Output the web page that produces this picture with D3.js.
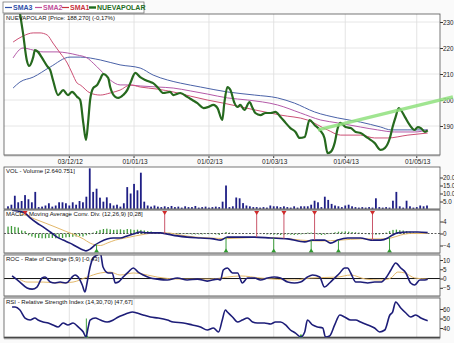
<!DOCTYPE html>
<html>
<head>
<meta charset="utf-8">
<script src="https://cdn.jsdelivr.net/npm/d3@7"></script>
<style>
  html, body { margin: 0; padding: 0; background: #fafafa; }
  svg { display: block; font-family: "Liberation Sans", Arial, sans-serif; }
</style>
</head>
<body>
<svg id="chart" width="454" height="343"></svg>
<script>
// x positions are trading sessions (0 = first session shown)
const tickSessions = [18, 37, 59, 78, 99, 120];
const tickLabels = ['03/12/12', '01/01/13', '01/02/13', '01/03/13', '01/04/13', '01/05/13'];

// price [session, value]
const price = [[3.5,233.5],[4.4,225.8],[5.5,215.4],[6.2,213.1],[7.4,216.5],[7.9,219.2],[8.8,218.5],[10,216.2],[11.5,213],[12.4,211.5],[13.2,207.7],[14.7,201.9],[16.2,203.8],[17.6,201.9],[18.8,203.1],[20.3,201.2],[21.2,200],[22.1,191.2],[22.9,184.6],[23.5,191.2],[24.1,200],[25,204.6],[26.2,205.8],[27.1,208.1],[27.9,210],[29.4,208.5],[30,205],[31.5,201.2],[32.4,200.8],[33.8,201.9],[35,203.8],[35.9,206.5],[37.4,210.4],[38.8,208.8],[40.3,207.7],[41.8,206.9],[42.6,206.5],[44.1,204.6],[45.6,202.7],[47.6,203.1],[48.5,201.9],[50.6,202.7],[52.6,201.2],[54.1,200],[55.6,198.8],[57.4,196.9],[58.8,197.3],[60.3,198.1],[61.5,196.9],[62.9,192.3],[63.5,198.8],[64.4,205],[65.3,203.8],[66.5,198.8],[67.4,197.3],[68.2,198.1],[69.4,196.2],[70.9,199.2],[71.8,196.9],[72.6,195],[74.1,194.2],[75.6,195],[77.1,195],[78.5,195.4],[80,193.5],[81.5,191.2],[82.9,189.2],[84.4,187.7],[85.6,185.4],[87.1,185.8],[88.5,192.3],[90,190.4],[91.5,188.5],[92.9,185.4],[93.8,179.6],[94.7,180],[95.9,183.5],[96.8,189.2],[97.6,191.2],[99.1,189.6],[100.6,189.2],[102.1,187.7],[103.5,187.3],[105.6,185.4],[107.6,183.5],[109.4,180.8],[110.6,181.5],[112.1,185.4],[112.9,189.6],[113.8,193.5],[114.7,196.9],[115.3,196.2],[116.5,193.5],[117.9,190.4],[119.4,188.5],[120.3,189.6],[121.2,189.2],[122.4,187.7],[123.2,188.3]];

const sma1 = [[1.5,222.3],[4.4,224.6],[7.4,225.8],[9.4,225.8],[11.5,225],[13.2,221.9],[15.3,218.1],[17.4,214.2],[18.8,210.4],[20.3,206.5],[21.2,205.8],[24.1,202.7],[27.1,201.9],[30,202.7],[32.9,203.8],[35.9,205.8],[38.8,205],[43.8,204.2],[48.5,203.1],[53.5,201.5],[58.5,200],[63.2,198.8],[72.4,196.2],[80,194.2],[87.9,192.3],[93.8,188.5],[97.6,186.5],[103.5,186.5],[107.6,185.4],[111.5,185.4],[117.4,186.5],[123.2,187.3]];
const sma2 = [[1.5,216.2],[4.4,220],[7.4,219.2],[10.3,218.5],[14.4,218.5],[17.4,218.1],[20.3,217.3],[23.2,216.2],[25,214.2],[27.1,211.5],[30,207.7],[32.9,205.8],[35,205.8],[38.8,205.4],[43.8,205],[48.5,204.6],[53.5,203.5],[58.5,202.3],[64.4,200.8],[70.3,200],[79.1,198.1],[85.9,195],[91.8,192.3],[96.8,191.2],[103.5,189.6],[108.5,188.5],[113.5,187.7],[119.4,187.7],[123.2,188.5]];
const sma3 = [[1.5,204.6],[3.5,206.9],[7.4,208.8],[12.4,212.7],[18.2,216.5],[21.2,216.5],[27.1,215.4],[32.9,213.5],[38.8,212.3],[42.6,209.6],[46.8,207.7],[50.6,206.5],[56.5,205],[64.4,203.1],[72.4,201.9],[79.1,200.8],[84.1,198.8],[90,195.4],[96.8,193.1],[103.5,191.5],[109.4,189.6],[112.4,188.5],[117.4,188.5],[123.2,188.5]];
const trendLine = [[91, 188.5], [130.6, 201.2]];

// volume per session (x 100.000)
const volume = [2,3,8.6,4.5,5.3,9,6.4,4.5,11,1.5,1.8,2.5,3.9,1.8,2.5,4.5,4.5,3.9,2.5,4.5,3,5.3,4.5,8,25.7,11,13,7.4,4.9,7.6,3.9,2.5,3,1.8,3.9,14,10,16,12,23,4.9,2.5,1.8,2.5,1.8,1.5,2,1.5,2.2,1.5,1.8,1.2,2,1.5,1.5,2.2,1.2,1.5,1.8,1.2,1.5,1.8,1.5,4.9,15,1.5,2,7.5,7,4,2.5,2,1.5,1.5,1.2,1.5,1.2,2.5,2,2,1.5,2,1.5,1.2,2,1.2,2,2,2,3,5.5,4.5,1.5,8,6,3.5,2.5,2,1.5,2.5,3,2,1.5,1.2,1.5,1.2,1.5,1.2,7,1.5,1.2,1.5,1.2,5.5,11,2,1.2,5.5,2,1.2,1.5,2.5,2,2.5];

// MACD
const macdHist = [2.3,2.5,2.2,2,1,0.8,-0.6,-1,-1.4,-1.5,-1.6,-1.6,-1.5,-1.5,-1.6,-1.4,-1.5,-1.3,-1.2,-1.1,-1,-0.9,-1,-0.6,-0.3,0.3,0.8,1.2,1.5,1.6,1.4,1.2,1.3,1.4,1.2,1.5,1.4,1.2,1.3,1.2,1,0.8,0.7,0.5,0.3,0.2,0.2,0.1,-0.1,-0.1,0.2,0.1,-0.2,-0.2,-0.3,-0.3,-0.3,-0.3,-0.2,-0.2,-0.2,-0.3,-0.5,0.2,0.5,0.3,0.2,0.1,0.1,0,-0.1,-0.1,0.1,0.1,0,-0.2,-0.3,-0.3,-0.4,-0.4,-0.5,-0.4,-0.3,-0.4,-0.5,-0.4,-0.3,-0.2,0.3,0.3,0.2,-0.3,-0.5,-0.4,-0.2,0.2,0.4,0.6,0.6,0.7,0.6,0.5,0.4,0.3,0.2,-0.2,-0.3,-0.4,-0.4,-0.3,-0.2,0.3,0.8,1.2,1.3,1.1,1,0.8,0.6,0.4,0.3,0.2,0.2,0.1];
const macdLine = [[1.2,7.8],[2.9,7.5],[5,6.8],[6.5,5.2],[8.5,3.5],[10.3,2.2],[12.4,0.5],[14.4,-1.2],[16.2,-2.2],[18.2,-3.2],[20.3,-4.5],[22.1,-5.5],[22.9,-5.8],[24.1,-5.2],[25.6,-3.8],[27.1,-2.8],[29.1,-1.8],[30.9,-1.5],[32.9,-1.5],[35,-0.8],[36.8,-0.2],[38.8,0.5],[40.9,0.2],[42.6,0.2],[44.7,0.2],[46.8,-0.2],[49.7,-0.8],[52.6,-1.2],[56.5,-1.5],[60.3,-1.8],[62.4,-2.2],[64.4,-1.2],[67.4,-1.2],[72.4,-1.2],[77.1,-1.5],[82.1,-1.8],[87.1,-2.8],[89.4,-2.2],[92.9,-2.2],[94.7,-3.2],[96.8,-2.2],[99.7,-1.5],[103.5,-1.5],[106.5,-2.2],[109.4,-2.2],[111.5,-1.5],[112.9,-0.5],[114.4,0.2],[117.4,0.5],[120.3,0.5],[123.2,0.3]];
const macdSignal = [[3.5,6.5],[5.9,5.8],[7.9,4.8],[10.9,3.5],[13.8,2.2],[16.8,0.8],[19.7,-0.5],[22.1,-1.8],[24.1,-3.2],[25.6,-3.8],[27.1,-4],[29.1,-3.2],[31.5,-2.2],[34.4,-1.5],[37.4,-0.8],[40.3,-0.2],[43.2,0.2],[46.8,0.2],[50.6,-0.5],[55,-1.2],[59.4,-1.5],[64.4,-1.7],[72.4,-1.3],[80,-1.5],[85.9,-2.2],[91.8,-2.5],[97.6,-2.2],[103.5,-1.8],[109.4,-1.8],[112.4,-1.5],[115.3,-0.5],[118.2,0],[123.2,0]];
const macdSells = [[5,6.8],[46,0],[73,-1.2],[81,-1.7],[90,-2.2],[107,-2.2]];
const macdBuys = [[26,-3.5],[64,-1.3],[78,-1.5],[89,-2.3],[97,-2.2],[112,-1.2]];

// ROC
const rocLine = [[1.2,1.4],[3.5,-1.9],[5.6,-5.1],[7.1,-5.7],[8.5,-4.6],[10,0.3],[10.9,0.8],[12.4,-1.9],[13.8,-2.4],[15.3,-1.9],[16.8,-2.4],[17.6,-1.9],[18.8,0.8],[19.7,1.9],[20.6,0.8],[21.8,-3.5],[22.6,-7.3],[23.2,-2.4],[24.1,6.2],[25,11.1],[26.2,12.7],[27.1,13.8],[27.9,6.2],[29.4,3],[30.6,3],[31.5,-2.4],[32.4,-1.9],[33.8,0.8],[35.3,3.5],[36.8,5.7],[38.2,3.5],[39.7,1.9],[41.8,0.3],[43.8,-0.3],[46.8,-0.8],[49.7,0.3],[52.6,-0.8],[55.6,-0.3],[58.5,-1.4],[61.5,-0.3],[62.4,-0.8],[63.2,4.6],[64.4,5.7],[65.9,3],[67.4,3],[68.8,-2.4],[70.3,0.3],[72.4,0.3],[74.1,-0.8],[76.2,0.3],[78.2,0.8],[80,0.3],[82.1,-1.9],[84.1,-2.4],[85.9,-1.9],[87.9,0.8],[89.4,1.9],[91.5,0.8],[92.9,-4.6],[94.4,-2.4],[95.9,0.3],[97.4,3],[98.8,5.7],[99.7,5.7],[100.6,3],[102.1,-1.9],[103.5,-1.9],[105.6,-2.4],[107.6,-1.9],[109.4,-1.9],[110.9,0.3],[112.4,4.6],[113.8,8.4],[115.3,5.7],[116.8,3],[118.2,-2.4],[119.4,-3.5],[120.9,-0.8],[122.4,-0.8],[123.2,-0.4]];
const rocSignal = [[3.5,-0.5],[5.6,-1.9],[10.3,-1.9],[15.3,-2.4],[19.1,-1.9],[23.2,0.8],[27.1,3],[30,3.5],[32.9,1.9],[36.8,3],[40.9,1.9],[43.8,0.8],[50.6,-0.3],[59.4,-0.3],[64.4,0.8],[68.2,1.4],[74.1,0.3],[84.1,-0.8],[88.8,0.3],[96.8,0.8],[100.6,1.9],[105,-0.3],[109.4,-0.8],[112.4,0.3],[114.4,3.5],[116.5,3],[119.4,0.3],[123.2,-0.3]];

// RSI
const rsiLine = [[1.2,62.1],[2.1,62.1],[3.5,58.9],[5,50.5],[6.5,48.4],[7.9,50.5],[8.8,48.4],[10.3,46.3],[11.8,45.3],[13.2,43.2],[14.7,41.1],[16.2,45.3],[17.6,43.2],[19.1,45.3],[20.6,41.1],[22.1,35.8],[22.9,30.5],[23.5,40],[24.1,48.4],[25.6,50.5],[27.1,48.4],[29.1,46.3],[30.9,48.4],[32.4,51.6],[33.8,53.7],[35.3,55.8],[36.5,56.8],[37.9,55.8],[39.7,53.7],[41.8,51.6],[44.1,50.5],[46.8,48.4],[48.5,46.3],[51.5,45.3],[54.1,43.2],[56.5,41.1],[58.5,37.9],[60.3,40],[61.8,35.8],[62.9,48.4],[63.8,58.9],[64.4,56.8],[65.9,51.6],[67.4,46.3],[68.8,48.4],[70.3,50.5],[71.8,46.3],[73.2,45.3],[75.3,45.3],[77.1,44.2],[78.5,46.3],[80,46.3],[81.5,43.2],[82.9,37.9],[84.4,34.7],[85.9,30.5],[87.1,35.8],[87.9,48.4],[89.4,43.2],[90.9,41.1],[92.4,40],[93.2,30.5],[94.4,31.6],[95.9,43.2],[97.4,53.7],[98.8,51.6],[100.6,48.4],[102.1,48.4],[103.5,46.3],[105.6,43.2],[107.6,40],[109.1,35.8],[110.6,37.9],[112.1,53.7],[112.9,56.8],[113.8,67.4],[115.3,61.1],[116.8,55.8],[118.2,51.6],[119.7,53.7],[121.2,50.5],[122.6,48.4],[123.2,47.7]];
// RSI buy marks [session, level reached by the marker line]
const rsiBuys = [[23, 50], [86, 33]];

// ---------------------------------------------------------------
const svg = d3.select('#chart');
const left = 4, right = 440;
const x = d3.scaleLinear().domain([0, 123]).range([8, 427]);

const navy = '#1d1d78';
const orange = '#e3b86a';

// panel boxes
const panels = {
    main: { top: 14, bottom: 155 },
    vol: { top: 167, bottom: 209 },
    macd: { top: 210, bottom: 253 },
    roc: { top: 255, bottom: 296 },
    rsi: { top: 298, bottom: 338 }
};

const yMain = d3.scaleLinear().domain([190, 230]).range([126, 22]);
const yVol = d3.scaleLinear().domain([0, 20]).range([209.5, 177.5]);
const yMacd = d3.scaleLinear().domain([-4, 4]).range([245.5, 221.5]);
const yRoc = d3.scaleLinear().domain([-5, 10]).range([287.8, 260]);
const yRsi = d3.scaleLinear().domain([40, 60]).range([328, 309]);

function setupPanel(name, y, ticks, fmt, title) {
    const p = panels[name];
    svg.append('rect')
        .attr('x', left).attr('y', p.top)
        .attr('width', right - left).attr('height', p.bottom - p.top)
        .attr('fill', '#fff');

    svg.append('clipPath').attr('id', 'clip-' + name)
        .append('rect')
        .attr('x', left).attr('y', p.top)
        .attr('width', right - left).attr('height', p.bottom - p.top);

    // vertical date grid
    svg.append('g').selectAll('line')
        .data(tickSessions).enter().append('line')
        .attr('x1', d => x(d)).attr('x2', d => x(d))
        .attr('y1', p.top).attr('y2', p.bottom)
        .attr('stroke', '#dcdcdc').attr('stroke-width', 0.8);

    // right axis
    const axis = d3.axisRight(y).tickValues(ticks).tickSize(3).tickFormat(fmt);
    const g = svg.append('g')
        .attr('transform', `translate(${right}, 0)`)
        .call(axis);
    g.select('.domain').remove();
    g.selectAll('line').attr('stroke', '#333');
    g.selectAll('text')
        .attr('x', 3)
        .style('font-size', '6.3px')
        .attr('fill', '#222');

    const layer = svg.append('g').attr('clip-path', `url(#clip-${name})`);

    // border and title drawn at the end
    p.finish = () => {
        svg.append('rect')
            .attr('x', left).attr('y', p.top)
            .attr('width', right - left).attr('height', p.bottom - p.top)
            .attr('fill', 'none').attr('stroke', '#555').attr('stroke-width', 0.8);
        svg.append('line')
            .attr('x1', left).attr('x2', right)
            .attr('y1', p.bottom + 0.5).attr('y2', p.bottom + 0.5)
            .attr('stroke', '#999').attr('stroke-width', 1.6);
        svg.append('text')
            .attr('x', left + 2).attr('y', p.top + 6.3)
            .style('font-size', '6px')
            .attr('fill', '#111')
            .text(title);
    };
    return layer;
}

const lineOf = y => d3.line()
    .x(d => x(d[0]))
    .y(d => y(d[1]))
    .curve(d3.curveMonotoneX);

// ---------------- main price panel
const main = setupPanel('main', yMain, [190, 200, 210, 220, 230], d3.format('d'),
    'NUEVAPOLAR [Price: 188,270] (-0,17%)');

main.append('g').selectAll('line')
    .data([190, 200, 210, 220, 230]).enter().append('line')
    .attr('x1', left).attr('x2', right)
    .attr('y1', d => yMain(d)).attr('y2', d => yMain(d))
    .attr('stroke', '#e0e0e0').attr('stroke-width', 0.8);

main.append('path').datum(sma3)
    .attr('d', lineOf(yMain)).attr('fill', 'none')
    .attr('stroke', '#4a62a8').attr('stroke-width', 1);
main.append('path').datum(sma2)
    .attr('d', lineOf(yMain)).attr('fill', 'none')
    .attr('stroke', '#b45aa8').attr('stroke-width', 1);
main.append('path').datum(sma1)
    .attr('d', lineOf(yMain)).attr('fill', 'none')
    .attr('stroke', '#cc4f74').attr('stroke-width', 1);
main.append('path').datum(price)
    .attr('d', lineOf(yMain)).attr('fill', 'none')
    .attr('stroke', '#26691e').attr('stroke-width', 2.2)
    .attr('stroke-linejoin', 'round');

// date labels under the price panel
svg.append('g').selectAll('text')
    .data(tickSessions).enter().append('text')
    .attr('x', d => x(d) + 1)
    .attr('y', 164)
    .attr('text-anchor', 'middle')
    .style('font-size', '6.5px')
    .attr('fill', '#222')
    .text((d, i) => tickLabels[i]);
svg.append('g').selectAll('line')
    .data(tickSessions).enter().append('line')
    .attr('x1', d => x(d)).attr('x2', d => x(d))
    .attr('y1', 155).attr('y2', 158)
    .attr('stroke', '#333');

// ---------------- volume
const vol = setupPanel('vol', yVol, [5, 10, 15, 20], d3.format('.1f'), 'VOL - Volume [2.640.751]');
vol.selectAll('rect.bar')
    .data(volume).enter().append('rect')
    .attr('class', 'bar')
    .attr('x', (d, i) => x(i) - 0.9)
    .attr('width', 1.8)
    .attr('y', d => yVol(d))
    .attr('height', d => yVol(0) - yVol(d))
    .attr('fill', '#1f1f86');

// ---------------- MACD
const macd = setupPanel('macd', yMacd, [-4, 0, 4], d3.format('d'),
    'MACD - Moving Average Conv. Div. (12,26,9) [0,28]');
macd.selectAll('rect.hist')
    .data(macdHist).enter().append('rect')
    .attr('class', 'hist')
    .attr('x', (d, i) => x(i) - 0.6)
    .attr('width', 1.3)
    .attr('y', d => Math.min(yMacd(0), yMacd(d)))
    .attr('height', d => Math.abs(yMacd(d) - yMacd(0)))
    .attr('fill', '#3f9b3a');
macd.append('line')
    .attr('x1', left).attr('x2', right)
    .attr('y1', yMacd(0)).attr('y2', yMacd(0))
    .attr('stroke', '#333').attr('stroke-width', 0.8)
    .attr('stroke-dasharray', '2,1.5');
macd.append('path').datum(macdSignal)
    .attr('d', lineOf(yMacd)).attr('fill', 'none')
    .attr('stroke', orange).attr('stroke-width', 1);
macd.append('path').datum(macdLine)
    .attr('d', lineOf(yMacd)).attr('fill', 'none')
    .attr('stroke', navy).attr('stroke-width', 1.6);

// sell / buy signals
const mTop = panels.macd.top, mBot = panels.macd.bottom;
macd.selectAll('line.sell')
    .data(macdSells).enter().append('line')
    .attr('x1', d => x(d[0])).attr('x2', d => x(d[0]))
    .attr('y1', mTop + 2).attr('y2', d => yMacd(d[1]))
    .attr('stroke', '#c9566a').attr('stroke-width', 1);
macd.selectAll('path.sellMark')
    .data(macdSells).enter().append('path')
    .attr('d', d => `M${x(d[0]) - 2.5},${mTop + 1}h5l-2.5,4z`)
    .attr('fill', '#d02a2a');
macd.selectAll('line.buy')
    .data(macdBuys).enter().append('line')
    .attr('x1', d => x(d[0])).attr('x2', d => x(d[0]))
    .attr('y1', mBot - 2).attr('y2', d => yMacd(d[1]))
    .attr('stroke', '#3c9c3c').attr('stroke-width', 1);
macd.selectAll('path.buyMark')
    .data(macdBuys).enter().append('path')
    .attr('d', d => `M${x(d[0]) - 2.5},${mBot - 0.5}h5l-2.5,-4z`)
    .attr('fill', '#2e9a2e');

// ---------------- ROC
const roc = setupPanel('roc', yRoc, [-5, 0, 5, 10], d3.format('d'), 'ROC - Rate of Change (5,9) [-0,43]');
roc.append('line')
    .attr('x1', left).attr('x2', right)
    .attr('y1', yRoc(0)).attr('y2', yRoc(0))
    .attr('stroke', '#111').attr('stroke-width', 1);
roc.append('path').datum(rocSignal)
    .attr('d', lineOf(yRoc)).attr('fill', 'none')
    .attr('stroke', orange).attr('stroke-width', 1);
roc.append('path').datum(rocLine)
    .attr('d', lineOf(yRoc)).attr('fill', 'none')
    .attr('stroke', navy).attr('stroke-width', 1.6);

// ---------------- RSI
const rsi = setupPanel('rsi', yRsi, [40, 50, 60], d3.format('d'),
    'RSI - Relative Strength Index (14,30,70) [47,67]');
rsi.append('line')
    .attr('x1', left).attr('x2', right)
    .attr('y1', yRsi(30)).attr('y2', yRsi(30))
    .attr('stroke', '#111').attr('stroke-width', 1.4);
rsi.selectAll('line.buy')
    .data(rsiBuys).enter().append('line')
    .attr('x1', d => x(d[0])).attr('x2', d => x(d[0]))
    .attr('y1', panels.rsi.bottom - 2).attr('y2', d => yRsi(d[1]))
    .attr('stroke', '#3c9c3c').attr('stroke-width', 1);
rsi.selectAll('path.buyMark')
    .data(rsiBuys).enter().append('path')
    .attr('d', d => `M${x(d[0]) - 2.5},${panels.rsi.bottom}h5l-2.5,-4z`)
    .attr('fill', '#2e9a2e');
rsi.append('path').datum(rsiLine)
    .attr('d', lineOf(yRsi)).attr('fill', 'none')
    .attr('stroke', navy).attr('stroke-width', 1.6);

Object.values(panels).forEach(p => p.finish());

// trend line drawn over the price panel and axis
svg.append('path').datum(trendLine)
    .attr('d', d3.line().x(d => x(d[0])).y(d => yMain(d[1])))
    .attr('stroke', '#8fe07e').attr('stroke-width', 3.5)
    .attr('stroke-opacity', 0.85).attr('fill', 'none');

// ---------------- legend
const legendItems = [
    { label: 'SMA3', color: '#2d4fa8', x: 5 },
    { label: 'SMA2', color: '#c0509a', x: 35 },
    { label: 'SMA1', color: '#c8323c', x: 62 },
    { label: 'NUEVAPOLAR', color: '#1f6e1f', x: 89 }
];
svg.append('rect')
    .attr('x', 3).attr('y', 2).attr('width', 141).attr('height', 11)
    .attr('fill', '#fff').attr('stroke', '#666').attr('stroke-width', 0.7);
const lg = svg.append('g').selectAll('g')
    .data(legendItems).enter().append('g')
    .attr('transform', d => `translate(${d.x}, 7.5)`);
lg.append('line')
    .attr('x1', 0).attr('x2', 7)
    .attr('stroke', d => d.color)
    .attr('stroke-width', d => d.label === 'NUEVAPOLAR' ? 2.4 : 1.2);
lg.append('text')
    .attr('x', 8).attr('y', 2.6)
    .style('font-size', '7px')
    .style('font-weight', 'bold')
    .attr('fill', d => d.color)
    .text(d => d.label);
</script>
</body>
</html>
